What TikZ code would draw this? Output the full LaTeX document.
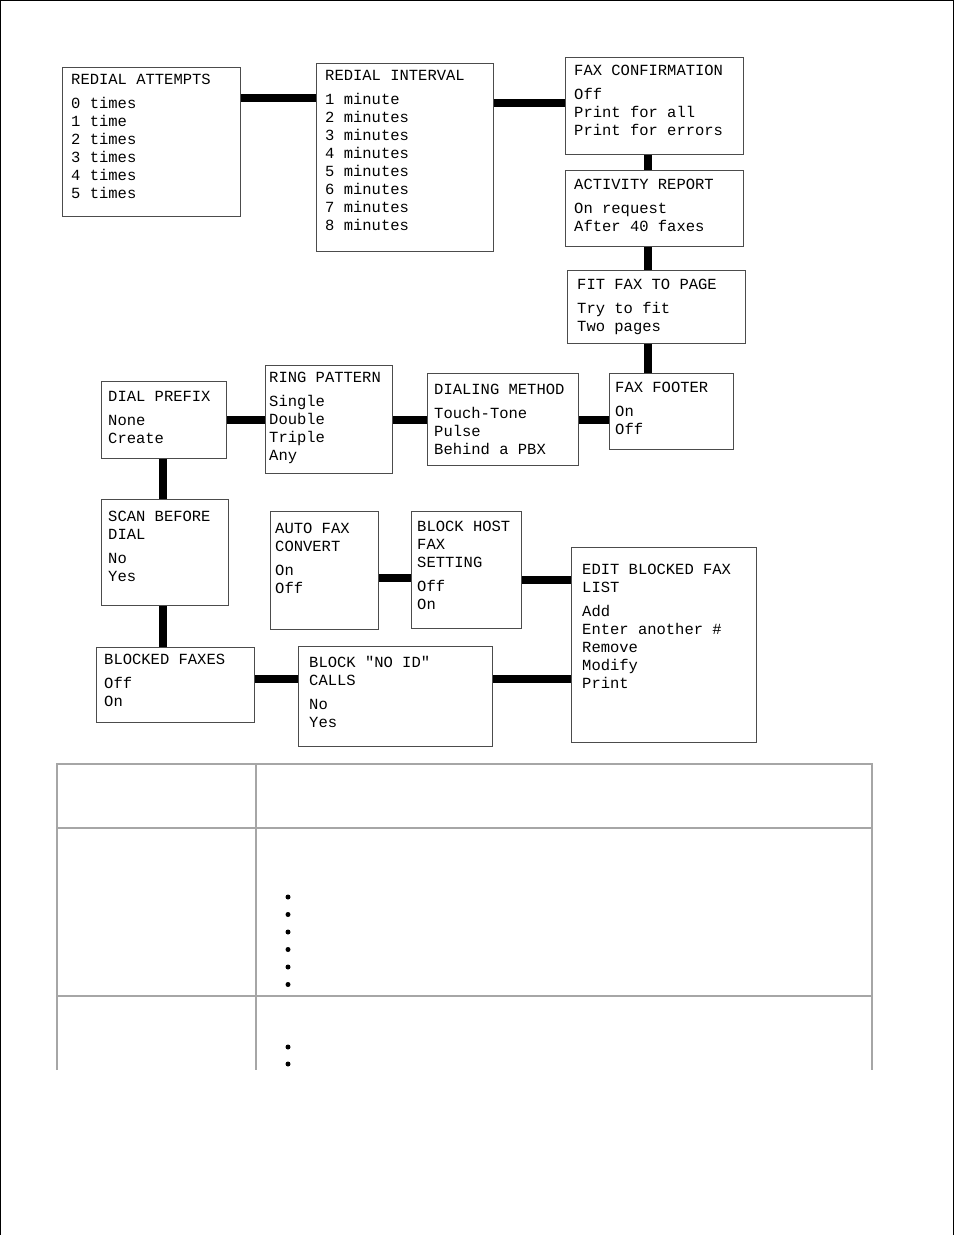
\documentclass[tikz,border=0pt]{standalone}
\usepackage{fontspec}
\setmonofont{Liberation Mono}
\usepackage{tikz}

\begin{document}
\begin{tikzpicture}[x=1pt, y=-1pt,
  menu/.style={draw=black!70, line width=1.3pt, anchor=north west, inner sep=0pt},
  items/.style={anchor=north west, align=left, inner sep=0pt, font=\ttfamily\fontsize{15.5}{18}\selectfont},
  link/.style={line width=8pt},
  grid/.style={draw=black!35, line width=2.5pt}]
\useasboundingbox (0,0) rectangle (954,1235);
\draw[line width=1.5pt] (0.5,1235) -- (0.5,0.5) -- (953.5,0.5) -- (953.5,1235);
% menu boxes
\node[menu, minimum width=178, minimum height=149] (ra) at (62,67) {};
\node[menu, minimum width=177, minimum height=188] (ri) at (316,63) {};
\node[menu, minimum width=178, minimum height=97] (fc) at (565,57) {};
\node[menu, minimum width=178, minimum height=76] (ar) at (565,170) {};
\node[menu, minimum width=178, minimum height=73] (ff) at (567,270) {};
\node[menu, minimum width=124, minimum height=76] (foot) at (609,373) {};
\node[menu, minimum width=151, minimum height=92] (dm) at (427,373) {};
\node[menu, minimum width=127, minimum height=108] (rp) at (265,365) {};
\node[menu, minimum width=125, minimum height=77] (dp) at (101,381) {};
\node[menu, minimum width=127, minimum height=106] (sbd) at (101,499) {};
\node[menu, minimum width=108, minimum height=118] (afc) at (270,511) {};
\node[menu, minimum width=110, minimum height=117] (bhf) at (411,511) {};
\node[menu, minimum width=185, minimum height=195] (ebf) at (571,547) {};
\node[menu, minimum width=158, minimum height=75] (bf) at (96,647) {};
\node[menu, minimum width=194, minimum height=100] (bni) at (298,646) {};
% texts
\node[items] at ([shift={(9,7)}]ra.north west) {REDIAL ATTEMPTS\\[6pt]0 times\\1 time\\2 times\\3 times\\4 times\\5 times};
\node[items] at ([shift={(9,7)}]ri.north west) {REDIAL INTERVAL\\[6pt]1 minute\\2 minutes\\3 minutes\\4 minutes\\5 minutes\\6 minutes\\7 minutes\\8 minutes};
\node[items] at ([shift={(9,8)}]fc.north west) {FAX CONFIRMATION\\[6pt]Off\\Print for all\\Print for errors};
\node[items] at ([shift={(9,9)}]ar.north west) {ACTIVITY REPORT\\[6pt]On request\\After 40 faxes};
\node[items] at ([shift={(10,9)}]ff.north west) {FIT FAX TO PAGE\\[6pt]Try to fit\\Two pages};
\node[items] at ([shift={(6,9)}]foot.north west) {FAX FOOTER\\[6pt]On\\Off};
\node[items] at ([shift={(7,11)}]dm.north west) {DIALING METHOD\\[6pt]Touch-Tone\\Pulse\\Behind a PBX};
\node[items] at ([shift={(4,7)}]rp.north west) {RING PATTERN\\[6pt]Single\\Double\\Triple\\Any};
\node[items] at ([shift={(7,10)}]dp.north west) {DIAL PREFIX\\[6pt]None\\Create};
\node[items] at ([shift={(7,12)}]sbd.north west) {SCAN BEFORE\\DIAL\\[6pt]No\\Yes};
\node[items] at ([shift={(5,12)}]afc.north west) {AUTO FAX\\CONVERT\\[6pt]On\\Off};
\node[items] at ([shift={(6,10)}]bhf.north west) {BLOCK HOST\\FAX\\SETTING\\[6pt]Off\\On};
\node[items] at ([shift={(11,17)}]ebf.north west) {EDIT BLOCKED FAX\\LIST\\[6pt]Add\\Enter another \#\\Remove\\Modify\\Print};
\node[items] at ([shift={(8,7)}]bf.north west) {BLOCKED FAXES\\[6pt]Off\\On};
\node[items] at ([shift={(11,10)}]bni.north west) {BLOCK "NO ID"\\CALLS\\[6pt]No\\Yes};
% connectors
\draw[link] (ra.east |- 0,98) -- (ri.west |- 0,98);
\draw[link] (ri.east |- 0,103) -- (fc.west |- 0,103);
\draw[link] (fc.south -| 648,0) -- (ar.north -| 648,0);
\draw[link] (ar.south -| 648,0) -- (ff.north -| 648,0);
\draw[link] (ff.south -| 648,0) -- (foot.north -| 648,0);
\draw[link] (foot.west |- 0,420) -- (dm.east |- 0,420);
\draw[link] (dm.west |- 0,420) -- (rp.east |- 0,420);
\draw[link] (rp.west |- 0,420) -- (dp.east |- 0,420);
\draw[link] (dp.south -| 163,0) -- (sbd.north -| 163,0);
\draw[link] (sbd.south -| 163,0) -- (bf.north -| 163,0);
\draw[link] (bf.east |- 0,679) -- (bni.west |- 0,679);
\draw[link] (bni.east |- 0,679) -- (ebf.west |- 0,679);
\draw[link] (afc.east |- 0,578) -- (bhf.west |- 0,578);
\draw[link] (bhf.east |- 0,580) -- (ebf.west |- 0,580);
% table
\draw[grid] (57,1070) -- (57,764) -- (872,764) -- (872,1070);
\draw[grid] (57,828) -- (872,828);
\draw[grid] (57,996) -- (872,996);
\draw[draw=black!35, line width=1.3pt] (256,764) -- (256,1070);
\foreach \yy in {897,914.5,932,949.5,967,984.5} \fill (288,\yy) circle (2.5);
\foreach \yy in {1047,1064} \fill (288,\yy) circle (2.5);
\end{tikzpicture}
\end{document}
